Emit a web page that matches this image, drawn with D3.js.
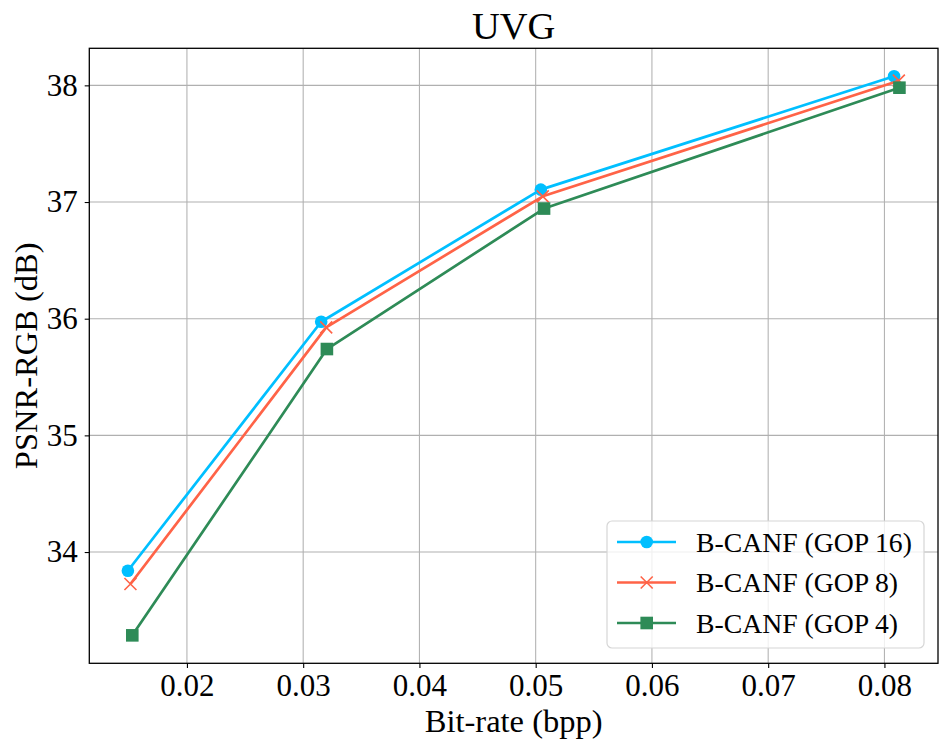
<!DOCTYPE html>
<html>
<head>
<meta charset="utf-8">
<script src="https://cdn.jsdelivr.net/npm/d3@7"></script>
<style>
  body { margin: 0; background: #fff; }
  text { font-family: "Liberation Serif", "Times New Roman", serif; }
</style>
</head>
<body>
<script>
// values
const seriesNames = ['B-CANF (GOP 16)', 'B-CANF (GOP 8)', 'B-CANF (GOP 4)']
const gop16Rate = [0.01492, 0.03155, 0.05044, 0.08083]
const gop16Psnr = [33.84, 35.974, 37.106, 38.078]
const gop8Rate = [0.01514, 0.03198, 0.05061, 0.08124]
const gop8Psnr = [33.726, 35.926, 37.049, 38.04]
const gop4Rate = [0.0153, 0.03204, 0.05072, 0.08129]
const gop4Psnr = [33.286, 35.74, 36.944, 37.98]
const xTicks = [0.02, 0.03, 0.04, 0.05, 0.06, 0.07, 0.08]
const yTicks = [34, 35, 36, 37, 38]

const width = 948
const height = 748
const margin = { top: 48.3, bottom: 84.7, left: 89.3, right: 10 }

const series = [
  { name: seriesNames[0], rate: gop16Rate, psnr: gop16Psnr, color: '#00bfff', marker: 'circle' },
  { name: seriesNames[1], rate: gop8Rate, psnr: gop8Psnr, color: '#ff6347', marker: 'x' },
  { name: seriesNames[2], rate: gop4Rate, psnr: gop4Psnr, color: '#2e8b57', marker: 'square' }
]

// matplotlib style 5% margins around the data
const allX = [].concat(gop16Rate, gop8Rate, gop4Rate)
const allY = [].concat(gop16Psnr, gop8Psnr, gop4Psnr)
const [x0, x1] = d3.extent(allX)
const [y0, y1] = d3.extent(allY)
const dx = (x1 - x0) * 0.05
const dy = (y1 - y0) * 0.05

const xScale = d3.scaleLinear()
  .domain([x0 - dx, x1 + dx])
  .range([margin.left, width - margin.right])

const yScale = d3.scaleLinear()
  .domain([y0 - dy, y1 + dy])
  .range([height - margin.bottom, margin.top])

const svg = d3.select('body')
  .append('svg')
  .attr('width', width)
  .attr('height', height)

const plotW = width - margin.left - margin.right
const plotH = height - margin.top - margin.bottom

// grid
svg.append('g')
  .selectAll('line')
  .data(xTicks)
  .enter()
  .append('line')
  .attr('x1', d => xScale(d)).attr('x2', d => xScale(d))
  .attr('y1', margin.top).attr('y2', height - margin.bottom)
  .attr('stroke', '#b0b0b0').attr('stroke-width', 1.05)

svg.append('g')
  .selectAll('line')
  .data(yTicks)
  .enter()
  .append('line')
  .attr('y1', d => yScale(d)).attr('y2', d => yScale(d))
  .attr('x1', margin.left).attr('x2', width - margin.right)
  .attr('stroke', '#b0b0b0').attr('stroke-width', 1.05)

// axes
const xAxis = svg.append('g')
  .attr('transform', `translate(0, ${height - margin.bottom})`)
  .call(d3.axisBottom(xScale).tickValues(xTicks).tickFormat(d3.format('.2f')).tickSize(4.6).tickPadding(6))
xAxis.select('.domain').remove()
xAxis.selectAll('text').attr('font-size', 31).attr('fill', '#000')
  .attr('font-family', '"Liberation Serif", serif')
xAxis.selectAll('line').attr('stroke-width', 1.1)

const yAxis = svg.append('g')
  .attr('transform', `translate(${margin.left}, 0)`)
  .call(d3.axisLeft(yScale).tickValues(yTicks).tickFormat(d3.format('d')).tickSize(4.6).tickPadding(7))
yAxis.select('.domain').remove()
yAxis.selectAll('text').attr('font-size', 31).attr('fill', '#000')
  .attr('font-family', '"Liberation Serif", serif')
yAxis.selectAll('line').attr('stroke-width', 1.1)

// lines and markers
const line = d3.line()
  .x(d => xScale(d[0]))
  .y(d => yScale(d[1]))

function drawMarker (g, type, color, cx, cy) {
  if (type === 'circle') {
    g.append('circle').attr('cx', cx).attr('cy', cy).attr('r', 6.3).attr('fill', color)
  } else if (type === 'square') {
    g.append('rect').attr('x', cx - 6.3).attr('y', cy - 6.3).attr('width', 12.6).attr('height', 12.6).attr('fill', color)
  } else {
    const s = 6
    g.append('path')
      .attr('d', `M${cx - s},${cy - s}L${cx + s},${cy + s}M${cx - s},${cy + s}L${cx + s},${cy - s}`)
      .attr('stroke', color).attr('stroke-width', 1.6).attr('fill', 'none')
  }
}

const plot = svg.append('g')
series.forEach(s => {
  const pts = s.rate.map((r, i) => [r, s.psnr[i]])
  plot.append('path')
    .datum(pts)
    .attr('d', line)
    .attr('fill', 'none')
    .attr('stroke', s.color)
    .attr('stroke-width', 2.7)
    .attr('stroke-linejoin', 'round')
  pts.forEach(p => drawMarker(plot, s.marker, s.color, xScale(p[0]), yScale(p[1])))
})

// frame
svg.append('rect')
  .attr('x', margin.left).attr('y', margin.top)
  .attr('width', plotW).attr('height', plotH)
  .attr('fill', 'none').attr('stroke', '#000').attr('stroke-width', 1.3)

// title and labels
svg.append('text')
  .attr('x', margin.left + plotW / 2).attr('y', 38.5)
  .attr('text-anchor', 'middle').attr('font-size', 38.5)
  .text('UVG')

svg.append('text')
  .attr('x', margin.left + plotW / 2).attr('y', 731.5)
  .attr('text-anchor', 'middle').attr('font-size', 32.5)
  .text('Bit-rate (bpp)')

svg.append('text')
  .attr('transform', `translate(37, ${margin.top + plotH / 2}) rotate(-90)`)
  .attr('text-anchor', 'middle').attr('font-size', 32.5)
  .text('PSNR-RGB (dB)')

// legend
const legend = svg.append('g').attr('transform', 'translate(607, 521)')
legend.append('rect')
  .attr('width', 317).attr('height', 127).attr('rx', 5)
  .attr('fill', 'rgba(255,255,255,0.8)').attr('stroke', '#d6d6d6').attr('stroke-width', 1.2)

series.forEach((s, i) => {
  const cy = 21 + i * 40.5
  legend.append('line')
    .attr('x1', 10).attr('x2', 69).attr('y1', cy).attr('y2', cy)
    .attr('stroke', s.color).attr('stroke-width', 2.7)
  drawMarker(legend, s.marker, s.color, 39.7, cy)
  legend.append('text')
    .attr('x', 89).attr('y', cy + 9.8)
    .attr('font-size', 27.7)
    .text(s.name)
})
</script>
</body>
</html>
